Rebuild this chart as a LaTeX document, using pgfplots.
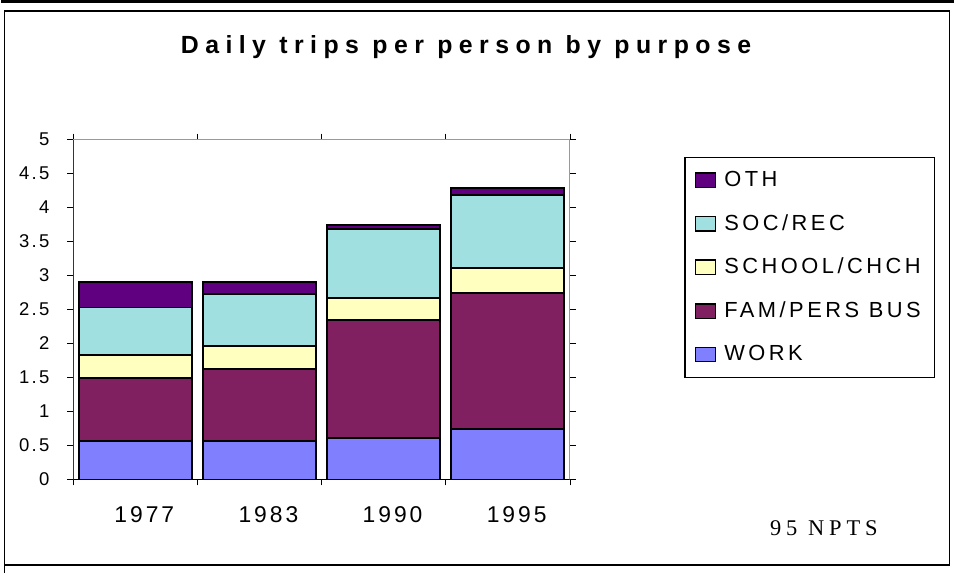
\documentclass[border=0pt]{standalone}
\usepackage{pgfplots}
\pgfplotsset{compat=1.18}
\usepackage{fontspec}
\setmainfont{Liberation Sans}[LetterSpace=15]
\newfontfamily\ttlfont{Liberation Sans}[LetterSpace=26]
\newfontfamily\xlfont{Liberation Sans}[LetterSpace=13]
\newfontfamily\ylfont{Liberation Sans}[LetterSpace=12]
\newfontfamily\legfont{Liberation Sans}[LetterSpace=16]
\newfontfamily\tmsfont{Liberation Serif}[LetterSpace=22]
\definecolor{cwork}{RGB}{128,128,255}
\definecolor{cfam}{RGB}{128,32,96}
\definecolor{csch}{RGB}{255,255,192}
\definecolor{csoc}{RGB}{160,224,224}
\definecolor{coth}{RGB}{96,0,128}
\begin{document}
\begin{tikzpicture}
\begin{scope}[x=0.5bp,y=-0.5bp]
\path (0,0) rectangle (955,575);
\draw[line width=1.5bp] (0,2) -- (955,2);
\draw[line width=0.8bp] (3,11) rectangle (951,567);
\draw[line width=0.8bp] (3,567) -- (3,575);
\node[font=\fontsize{12.5}{14}\ttlfont\bfseries] at (466,47) {Daily trips per person by purpose};
\node[font=\fontsize{11.3}{13}\tmsfont] at (825,530) {95 NPTS};
\end{scope}
\begin{axis}[
  at={(36bp,-240.5bp)}, anchor=south west,
  scale only axis, width=249bp, height=170.5bp,
  xmin=-0.5, xmax=3.5, ymin=0, ymax=5,
  ybar stacked, bar width=0.91,
  axis line style={draw=gray!80},
  xtick={0,1,2,3}, xticklabels={1977,1983,1990,1995},
  major x tick style={draw=none},
  minor xtick={-0.5,0.5,1.5,2.5,3.5},
  minor x tick style={black},
  ytick={0,0.5,...,5},
  y tick style={black},
  tick align=outside, major tick length=3bp, minor tick length=3bp,
  /pgf/number format/assume math mode=true,
  xticklabel style={font=\fontsize{11.5}{13}\xlfont, yshift=-7bp, xshift=4.5bp},
  yticklabel style={font=\fontsize{9.3}{11}\ylfont, xshift=-5.5bp},
  every axis plot/.append style={draw=black, line width=1bp},
  legend style={at={(1.231,0.950)}, anchor=north west, draw=black, line width=0.6bp,
    font=\fontsize{11}{13}\legfont, row sep=8.5bp, inner xsep=5bp, inner ysep=5bp,
    /tikz/every odd column/.append style={column sep=2bp}},
  legend cell align=left,
  reverse legend,
  legend image code/.code={\draw[#1,line width=0.7bp] (0bp,-3.6bp) rectangle (10bp,3.6bp);},
]
\addplot[fill=cwork] coordinates {(0,0.57) (1,0.57) (2,0.61) (3,0.75)};
\addplot[fill=cfam] coordinates {(0,0.93) (1,1.05) (2,1.73) (3,1.99)};
\addplot[fill=csch] coordinates {(0,0.33) (1,0.34) (2,0.33) (3,0.37)};
\addplot[fill=csoc] coordinates {(0,0.70) (1,0.77) (2,1.01) (3,1.07)};
\addplot[fill=coth] coordinates {(0,0.38) (1,0.17) (2,0.07) (3,0.11)};
\legend{WORK,FAM/PERS BUS,SCHOOL/CHCH,SOC/REC,OTH}
\draw[black, line width=0.8bp] (rel axis cs:0,0) -- (rel axis cs:0,1);
\draw[black, line width=0.8bp] (rel axis cs:0,0) -- (rel axis cs:1,0);
\end{axis}
\end{tikzpicture}
\end{document}
